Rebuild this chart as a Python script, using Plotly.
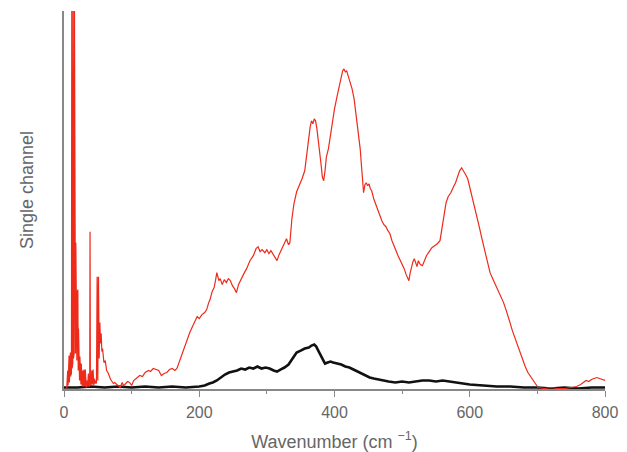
import plotly.graph_objects as go

# Red spectrum (sample) : wavenumber (cm-1) and signal (arb. units)
red_x = [4, 4.5, 5, 5.5, 6, 6.5, 7, 7.5, 8, 8.5, 9, 9.5, 10, 10.5, 11, 11.5, 12, 12.5, 13, 13.5, 14, 14.5, 15,
         15.5, 16, 16.5, 17, 17.5, 18, 18.5, 19, 19.5, 20, 20.5, 21, 21.5, 22, 22.5, 23, 23.5, 24, 24.5, 25, 25.5,
         26, 26.5, 27, 27.5, 28, 28.5, 29, 29.5, 30, 30.5, 31, 31.5, 32, 32.5, 33, 34, 35, 36, 37, 38, 38.5, 39,
         39.5, 40, 41, 42, 43, 44, 45, 46, 47,
         48, 49, 50, 51, 52, 53, 54, 55, 56, 57, 59, 61, 63, 65, 67, 69, 71, 73, 75, 78, 80, 83, 86, 88, 90, 94, 97,
         100, 103, 105, 108, 112, 116, 120, 125, 128, 132, 136, 140, 144, 148, 152, 156, 160, 164, 167, 170, 172,
         176, 179, 183, 186, 190, 194, 197, 200, 204, 208, 211, 214, 216, 219, 222, 224, 226, 229, 231, 234, 237,
         240, 243, 246, 249, 252, 255, 258, 262, 266, 270, 275, 280, 284, 287, 290, 293, 297, 300, 303, 306, 310,
         313, 315, 318, 322, 326, 329, 332, 334, 337, 340, 344, 348, 352, 356, 359, 362, 364, 366, 368, 370, 372,
         374, 376, 378, 380, 382, 384, 386, 388, 391, 394, 397, 400, 403, 406, 409, 412, 414, 416, 418, 420, 423,
         426, 429, 432, 435, 438, 440, 442, 443, 445, 447, 449, 451, 453, 455, 458, 461, 464, 467, 470, 473, 476,
         479, 482, 485, 488, 491, 494, 497, 500, 503, 506, 508, 510, 512, 514, 516, 518, 520, 522, 524, 527, 530,
         533, 536, 540, 544, 548, 552, 556, 559, 562, 565, 568, 572, 576, 579, 582, 585, 588, 591, 594, 597, 600,
         603, 606, 610, 614, 618, 622, 626, 630, 634, 638, 642, 646, 650, 654, 657, 660, 663, 666, 670, 674, 678,
         682, 686, 690, 694, 698, 701, 710, 720, 730, 740, 750, 758, 764, 768, 772, 776, 780, 784, 788, 792, 796, 800]
red_y = [0, 8, 2, 18, 3, 25, 4, 33, 6, 36, 10, 36, 12, 30, 14, 385, 20, 385, 25, 385, 30, 385, 35,
         385, 40, 146, 35, 146, 30, 140, 28, 96, 20, 99, 18, 60, 12, 36, 8, 32, 5, 30, 4, 25,
         3, 20, 2, 18, 2, 14, 2, 19, 3, 15, 2, 19, 2, 12, 1, 8, 2, 15, 2, 3, 157, 3,
         157, 4, 18, 4, 19, 3, 10, 5, 8,
         5, 112, 8, 112, 30, 66, 45, 55, 37, 40, 26, 28, 18, 16, 12, 9, 7, 5, 6, 4, 2, 1, 6, 3, 4, 7, 6,
         3, 8, 9, 11, 13, 12, 16, 18, 17, 20, 19, 18, 13, 15, 16, 19, 20, 18, 20, 26, 30,
         38, 43, 50, 56, 62, 68, 72, 70, 74, 76, 79, 86, 89, 97, 101, 108, 116, 108, 110, 104, 109,
         106, 110, 108, 103, 100, 96, 104, 110, 115, 120, 128, 133, 140, 142, 137, 139, 136, 139, 135, 138, 133,
         130, 128, 134, 140, 146, 150, 144, 146, 170, 185, 197, 203, 210, 218, 235, 250, 262, 268, 265, 270, 268,
         260, 250, 240, 225, 212, 208, 218, 232, 240, 255, 270, 280, 290, 300, 310, 318, 320, 317, 318, 314, 306,
         300, 290, 275, 258, 240, 222, 205, 196, 204, 206, 203, 205, 200, 198, 190, 184, 178, 172, 168, 164, 162,
         158, 155, 148, 142, 138, 133, 129, 124, 120, 114, 110, 108, 116, 122, 127, 130, 126, 122, 128, 124, 123,
         128, 133, 137, 141, 143, 145, 148, 160, 175, 186, 192, 196, 202, 206, 212, 218, 221, 218, 214, 210, 202,
         193, 186, 175, 162, 150, 138, 126, 116, 110, 104, 98, 92, 86, 78, 70, 65, 58, 52, 44, 36, 28,
         22, 16, 12, 8, 4, 1, 0, 1, 0, 0, 1, 2, 4, 6, 8, 7, 9, 10, 11, 10, 9, 8]

# Black spectrum (reference)
black_x = [0, 20, 40, 60, 80, 100, 120, 140, 160, 180, 200, 208, 215, 220, 226, 232, 238, 244, 250, 256, 262,
           268, 274, 280, 286, 292, 298, 304, 310, 315, 320, 326, 332, 338, 344, 350, 356, 362, 366, 370, 373,
           376, 379, 382, 386, 390, 394, 398, 404, 410, 416, 422, 428, 434, 440, 446, 452, 458, 464, 470, 480,
           490, 500, 510, 520, 530, 540, 550, 560, 570, 580, 590, 600, 620, 640, 660, 680, 700, 720, 740, 760,
           780, 800]
black_y = [1, 1, 2, 1, 2, 1, 2, 1, 2, 1, 2, 3, 5, 6, 8, 11, 14, 16, 17, 18, 20,
           19, 21, 20, 22, 20, 21, 20, 18, 17, 19, 21, 24, 30, 36, 38, 40, 41, 43, 44, 42,
           38, 34, 29, 25, 26, 27, 26, 25, 24, 22, 21, 19, 17, 15, 13, 11, 10, 9, 8, 7,
           6, 7, 6, 7, 8, 8, 7, 8, 7, 6, 5, 4, 3, 2, 2, 1, 1, 0, 1, 0,
           1, 1]

x_ticks = [0, 200, 400, 600, 800]
x_title = "Wavenumber (cm <sup>−1</sup>)"
y_title = "Single channel"

fig = go.Figure()
fig.add_trace(go.Scatter(x=black_x, y=black_y, mode="lines",
                         line=dict(color="#111111", width=2.6), showlegend=False))
fig.add_trace(go.Scatter(x=red_x, y=red_y, mode="lines",
                         line=dict(color="#ee2a1a", width=1.2), showlegend=False))

axis_color = "#888888"
font_color = "#666666"
fig.update_layout(
    width=627, height=452,
    margin=dict(l=64, r=22, t=11, b=63, autoexpand=False),
    paper_bgcolor="white", plot_bgcolor="white",
    font=dict(family="Liberation Sans, Arial, sans-serif", color=font_color, size=16),
    xaxis=dict(range=[0, 800], tickvals=x_ticks, ticktext=[str(v) for v in x_ticks],
               automargin=False,
               showline=True, linecolor=axis_color, linewidth=1.5,
               ticks="outside", ticklen=6, tickcolor=axis_color, tickwidth=1.2,
               ticklabelstandoff=2,
               minor=dict(dtick=100, ticks="outside", ticklen=3, tickcolor=axis_color),
               showgrid=False, zeroline=False,
               title=dict(text=x_title, font=dict(size=18, color=font_color), standoff=16)),
    yaxis=dict(range=[-0.5, 378], showline=True, linecolor=axis_color, linewidth=1.5,
               automargin=False,
               ticks="", showticklabels=False, showgrid=False, zeroline=False),
    annotations=[dict(text=y_title, textangle=-90, xref="paper", yref="paper",
                      x=(27 - 64) / 541, y=(389 - 190) / 378, xanchor="center", yanchor="middle",
                      showarrow=False, font=dict(size=18, color=font_color))],
)

fig.write_html("out.html")
